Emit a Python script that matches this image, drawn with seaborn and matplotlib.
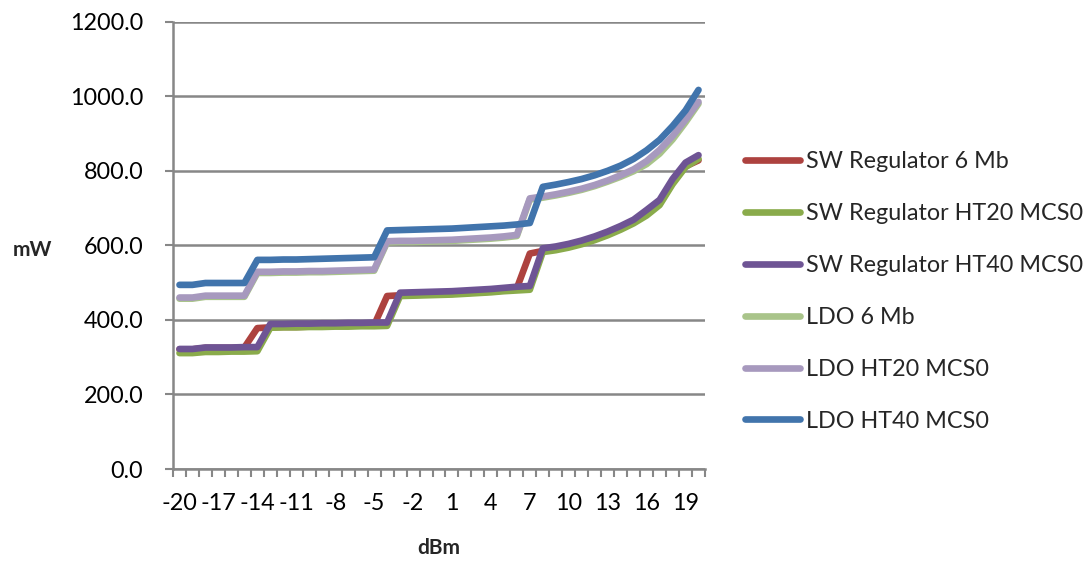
import numpy as np
import pandas as pd
import matplotlib
matplotlib.use("Agg")
import matplotlib.pyplot as plt
from matplotlib.lines import Line2D
import seaborn as sns

# ---------------- data ----------------
dbm = [-20, -19, -18, -17, -16, -15, -14, -13, -12, -11, -10, -9, -8, -7, -6, -5, -4, -3, -2, -1,
       0, 1, 2, 3, 4, 5, 6, 7, 8, 9, 10, 11, 12, 13, 14, 15, 16, 17, 18, 19, 20]

sw_6mb = [321, 321, 325, 325, 325, 326, 378, 380, 381, 381, 382, 383, 384, 384, 385, 386, 464, 466, 467, 468,
          469, 470, 472, 474, 476, 479, 485, 578, 585, 590, 597, 606, 617, 630, 645, 662, 684, 712, 768, 812, 828]
sw_ht20 = [311, 311, 314, 314, 315, 315, 316, 379, 380, 380, 381, 381, 382, 382, 383, 383, 384, 464, 465, 466,
           467, 468, 470, 472, 474, 477, 479, 481, 582, 587, 594, 603, 614, 627, 642, 659, 680, 708, 764, 810, 832]
sw_ht40 = [322, 322, 326, 326, 326, 327, 327, 389, 389, 390, 390, 391, 391, 392, 392, 393, 393, 473, 474, 475,
           476, 477, 479, 481, 483, 486, 489, 491, 592, 597, 604, 613, 624, 637, 652, 669, 695, 722, 778, 822, 842]
ldo_6mb = [457, 457, 462, 462, 462, 462, 526, 526, 527, 527, 528, 528, 529, 530, 531, 532, 608, 609, 609, 610,
           611, 612, 614, 616, 618, 621, 625, 723, 728, 734, 741, 749, 759, 771, 784, 799, 818, 846, 884, 930, 980]
ldo_ht20 = [460, 460, 465, 465, 465, 465, 529, 529, 530, 530, 531, 531, 532, 533, 534, 535, 611, 612, 612, 613,
            614, 615, 617, 619, 621, 624, 628, 726, 731, 737, 744, 752, 762, 774, 788, 804, 826, 856, 893, 937, 985]
ldo_ht40 = [494, 494, 499, 499, 499, 499, 561, 561, 562, 562, 563, 564, 565, 566, 567, 568, 640, 641, 642, 643,
            644, 645, 647, 649, 651, 653, 656, 660, 757, 763, 770, 778, 788, 800, 814, 832, 855, 883, 920, 962, 1017]

series_names = ["SW Regulator 6 Mb", "SW Regulator HT20 MCS0", "SW Regulator HT40 MCS0",
                "LDO 6 Mb", "LDO HT20 MCS0", "LDO HT40 MCS0"]
series_values = [sw_6mb, sw_ht20, sw_ht40, ldo_6mb, ldo_ht20, ldo_ht40]
colors = ["#AD423F", "#8AAB4B", "#6E5494", "#A9C48A", "#A799BE", "#4174AC"]

x_tick_labels = ["-20", "-17", "-14", "-11", "-8", "-5", "-2", "1", "4", "7", "10", "13", "16", "19"]
y_ticks = [0, 200, 400, 600, 800, 1000, 1200]
y_tick_labels = ["0.0", "200.0", "400.0", "600.0", "800.0", "1000.0", "1200.0"]

# ---------------- table ----------------
rows = []
for name, vals in zip(series_names, series_values):
    for x, v in zip(dbm, vals):
        rows.append({"dBm": x, "mW": v, "series": name})
df = pd.DataFrame(rows)

# ---------------- style ----------------
sns.set_theme(style="white")
plt.rcParams["font.family"] = ["Lato", "DejaVu Sans"]

W, H = 1092, 561
fig = plt.figure(figsize=(W / 100, H / 100), dpi=100)
ax = fig.add_axes([173 / W, 1 - 469 / H, (705 - 173) / W, (469 - 21.7) / H])

LW = 4.8
sns.lineplot(data=df, x="dBm", y="mW", hue="series", hue_order=series_names,
             palette=colors, linewidth=LW, ax=ax, legend=False,
             solid_capstyle="round", solid_joinstyle="round")

grey = "#878787"
ax.set_xlim(dbm[0] - 0.5, dbm[-1] + 0.5)
ax.set_ylim(y_ticks[0], y_ticks[-1])
ax.set_xticks([int(t) for t in x_tick_labels])
ax.set_xticklabels(x_tick_labels)
ax.set_xticks(np.arange(dbm[0] - 0.5, dbm[-1] + 1.0, 1.0), minor=True)
ax.set_yticks(y_ticks)
ax.set_yticklabels(y_tick_labels)

ax.tick_params(axis="x", which="major", length=0, pad=17, labelsize=16.8, labelcolor="black")
ax.tick_params(axis="x", which="minor", length=6, width=1.5, color=grey, direction="out", bottom=True)
ax.tick_params(axis="y", which="major", length=6, width=1.5, color=grey, direction="out",
               pad=15.5, labelsize=16.8, labelcolor="black", left=True)

ax.yaxis.grid(True, color=grey, linewidth=1.8)
ax.xaxis.grid(False)
ax.set_axisbelow(True)
for s in ["top", "right"]:
    ax.spines[s].set_visible(False)
for s in ["left", "bottom"]:
    ax.spines[s].set_color(grey)
    ax.spines[s].set_linewidth(1.8)
ax.set_xlabel("")
ax.set_ylabel("")

fig.text(32 / W, 1 - 250 / H, "mW", ha="center", va="center", fontsize=15, fontweight="bold")
fig.text(439 / W, 1 - 548 / H, "dBm", ha="center", va="center", fontsize=15, fontweight="bold")

handles = [Line2D([0], [0], color=c, linewidth=LW, solid_capstyle="round") for c in colors]
fig.legend(handles, series_names, loc="center left", bbox_to_anchor=(745 / W, 1 - 291.5 / H),
           frameon=False, fontsize=16.8, handlelength=2.35, handletextpad=0.26,
           labelspacing=1.32, borderpad=0, borderaxespad=0)

fig.savefig("out.png", dpi=100)
